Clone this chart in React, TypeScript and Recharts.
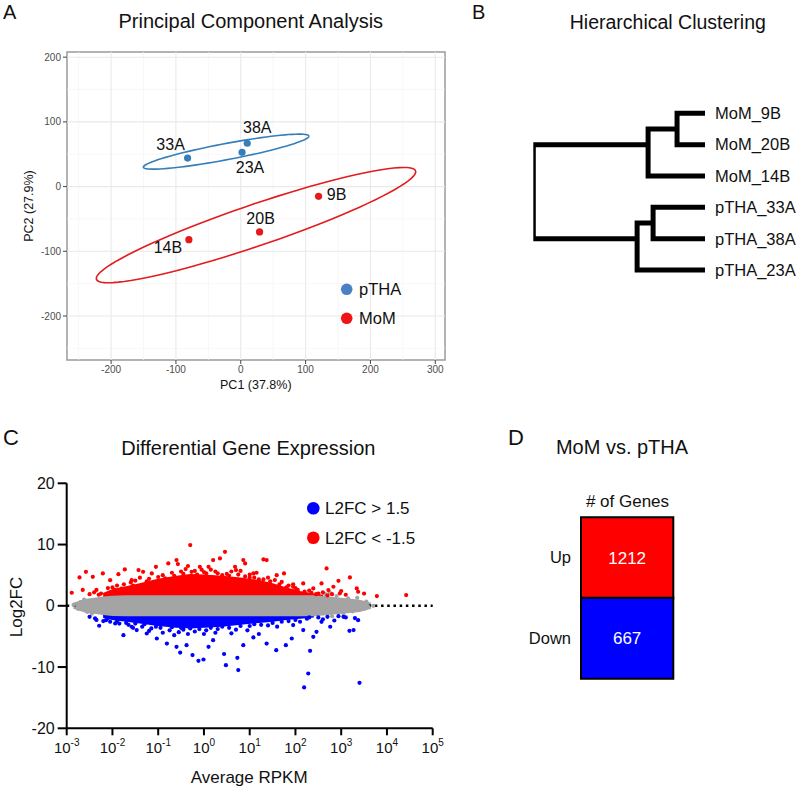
import React from 'react';
import {
  ScatterChart, Scatter, XAxis, YAxis, ReferenceLine, ReferenceArea,
  ComposedChart, Area, BarChart, Bar, Cell, LabelList, Legend,
} from 'recharts';

const FONT = 'Arial, "Liberation Sans", Helvetica, sans-serif';

// ---------------- Panel A: PCA ----------------
const pcaSamples = ['33A', '23A', '38A', '9B', '20B', '14B'];
const pcaGroups = ['pTHA', 'pTHA', 'pTHA', 'MoM', 'MoM', 'MoM'];
const pc1Values = [-82, 2, 10, 120, 29, -80];
const pc2Values = [44, 53, 67, -15, -70, -82];
const pcaGroupNames = ['pTHA', 'MoM'];
const pcaXTicks = [-200, -100, 0, 100, 200, 300];
const pcaYTicks = [-200, -100, 0, 100, 200];
const pcaXMinor = [-250, -150, -50, 50, 150, 250];
const pcaYMinor = [-250, -150, -50, 50, 150];
// confidence ellipses: centre, semi-axes, tilt (deg)
const pthaEllipse = { cx: -22.5, cy: 54, a: 130, b: 12.5, tilt: 10.7 };
const momEllipse = { cx: 23.5, cy: -59.5, a: 260, b: 32, tilt: 18.8 };

// ---------------- Panel B: dendrogram ----------------
const leafLabels = ['MoM_9B', 'MoM_20B', 'MoM_14B', 'pTHA_33A', 'pTHA_38A', 'pTHA_23A'];
// [childA height, childA row, childB height, childB row, merge height]
const merges = [
  [0, 0, 0, 1, 28],
  [28, 0.5, 0, 2, 57],
  [0, 3, 0, 4, 52],
  [52, 3.5, 0, 5, 68],
  [57, 1, 68, 4, 172],
];

// ---------------- Panel C: MA plot ----------------
const rpkmLogTicks = [-3, -2, -1, 0, 1, 2, 3, 4, 5];
const l2fcTicks = [-20, -10, 0, 10, 20];
const L2FC_CUT = 1.5;
const bandLogRpkm = [-2.85, -2.6, -2.2, -2.0, -1.7, -1.4, -1.0, -0.6, -0.3, 0.0, 0.4, 0.8, 1.2, 1.5, 1.8, 2.1, 2.4, 2.6, 3.0, 3.4, 3.65];
const grayBandLow = [-0.3, -0.9, -1.3, -1.45, -1.5, -1.5, -1.5, -1.5, -1.5, -1.5, -1.5, -1.5, -1.5, -1.5, -1.5, -1.5, -1.5, -1.4, -1.1, -0.8, -0.3];
const grayBandHigh = [0.3, 0.9, 1.3, 1.45, 1.5, 1.5, 1.5, 1.5, 1.5, 1.5, 1.5, 1.5, 1.5, 1.5, 1.5, 1.5, 1.5, 1.4, 1.1, 0.8, 0.3];
const upBandHigh = [null, null, 1.9, 2.5, 3.0, 3.5, 4.2, 4.7, 5.0, 4.9, 4.7, 4.4, 4.0, 3.5, 2.8, 2.2, 1.8, 1.6, null, null, null];
const downBandLow = [null, null, -1.8, -2.1, -2.4, -2.7, -3.1, -3.4, -3.5, -3.4, -3.2, -2.9, -2.6, -2.4, -2.1, -1.9, -1.7, null, null, null, null];
const upGenes = [
  [-2.89, 2.13], [-2.72, 4.63], [-2.58, 5.55], [-2.43, 4.73], [-2.21, 5.28], [-2.05, 4.19], [-1.87, 5.17], [-1.73, 5.94],
  [-1.58, 4.19], [-1.43, 5.83], [-1.33, 5.55], [-1.14, 5.28], [-1.05, 6.37], [-0.78, 6.92], [-0.6, 7.46], [-0.57, 6.81],
  [-0.3, 9.91], [-0.27, 5.55], [-0.09, 6.37], [0.1, 6.37], [0.2, 7.46], [0.35, 7.73], [0.46, 8.82], [0.68, 6.37],
  [0.7, 5.83], [0.86, 7.46], [0.9, 6.92], [1.08, 5.28], [1.3, 7.57], [1.37, 7.46], [1.59, 5.0], [1.75, 5.28],
  [1.95, 3.11], [2.17, 3.65], [2.39, 2.84], [2.57, 3.65], [2.68, 6.1], [2.72, 2.56], [2.83, 3.11], [2.94, 4.08],
  [2.97, 2.02], [3.19, 4.63], [3.34, 2.84], [3.37, 2.29], [3.78, 1.58], [4.42, 1.75],
  [-2.65, 2.6], [-2.5, 1.9], [-2.4, 2.2], [-2.35, 2.6], [-2.3, 1.8], [-2.25, 2.0], [-2.1, 2.9], [-1.9, 3.3],
  [-1.8, 2.8], [-1.6, 3.8], [-1.5, 4.1], [-1.2, 4.4], [-1.1, 3.9], [-0.9, 5.0], [-0.7, 5.4], [-0.5, 5.6],
  [-0.4, 6.0], [-0.2, 5.7], [0.0, 5.5], [0.15, 5.9], [0.3, 5.3], [0.5, 5.2], [0.6, 5.6], [0.9, 4.8],
  [1.0, 5.1], [1.1, 4.6], [1.3, 4.3], [1.45, 4.0], [1.65, 3.5], [1.85, 3.3], [2.0, 2.9], [2.2, 2.3],
  [2.35, 2.1], [2.5, 2.0], [2.7, 1.7],
  [-2.0, 3.0], [-1.95, 2.6], [-1.75, 3.5], [-1.55, 3.3], [-1.4, 4.6], [-1.25, 4.0], [-1.0, 4.7], [-0.85, 4.5],
  [-0.65, 4.9], [-0.45, 5.2], [-0.35, 6.5], [-0.15, 5.1], [-0.05, 5.9], [0.05, 5.3], [0.25, 5.6], [0.4, 5.0],
  [0.55, 4.9], [0.75, 5.1], [0.8, 5.7], [1.0, 4.6], [1.15, 5.4], [1.2, 4.3], [1.4, 4.6], [1.55, 4.2],
  [1.7, 3.9], [1.8, 3.0], [1.95, 3.5], [2.05, 2.6], [2.3, 2.5], [2.45, 1.9], [2.6, 2.2], [2.8, 1.9],
  [3.0, 2.4], [3.1, 1.8], [3.5, 2.0],
];
const downGenes = [
  [-2.38, -2.06], [-2.29, -3.26], [-2.14, -2.34], [-1.94, -2.88], [-1.76, -4.79], [-1.58, -3.42], [-1.47, -3.97], [-1.25, -4.52],
  [-1.03, -5.34], [-0.81, -6.16], [-0.6, -6.7], [-0.52, -7.63], [-0.38, -6.43], [-0.25, -8.05], [-0.12, -8.98], [-0.01, -8.77],
  [0.1, -6.7], [0.2, -5.61], [0.44, -7.87], [0.48, -9.69], [0.73, -8.49], [0.75, -10.5], [0.86, -6.43], [1.08, -5.17],
  [1.37, -6.16], [1.58, -7.24], [1.79, -6.43], [1.92, -5.34], [1.95, -3.15], [2.17, -3.97], [2.28, -11.05], [2.32, -7.35],
  [2.19, -13.33], [2.39, -5.07], [2.46, -4.25], [2.57, -2.61], [2.76, -3.42], [2.94, -1.69], [3.05, -1.8], [3.18, -4.08],
  [3.27, -3.97], [3.37, -2.34], [3.4, -12.57],
  [-2.5, -1.8], [-2.35, -2.3], [-2.2, -2.5], [-2.05, -2.6], [-1.85, -2.9], [-1.65, -3.1], [-1.5, -2.9], [-1.35, -3.4],
  [-1.15, -3.7], [-0.95, -3.6], [-0.75, -4.0], [-0.55, -4.3], [-0.45, -3.9], [-0.2, -4.2], [0.05, -4.0], [0.3, -3.8],
  [0.55, -3.6], [0.7, -3.9], [1.0, -3.3], [1.25, -3.1], [1.5, -2.8], [1.7, -2.6], [2.0, -2.3], [2.25, -2.1],
  [2.5, -1.9], [2.7, -1.8],
  [-2.1, -2.0], [-1.9, -2.5], [-1.7, -2.8], [-1.55, -3.6], [-1.3, -3.0], [-1.2, -4.1], [-1.05, -3.4], [-0.9, -4.4],
  [-0.7, -3.5], [-0.65, -4.8], [-0.5, -3.6], [-0.35, -4.6], [-0.3, -3.7], [-0.1, -3.8], [0.0, -4.6], [0.15, -3.6],
  [0.25, -4.4], [0.4, -3.4], [0.6, -4.5], [0.8, -3.3], [0.95, -4.0], [1.1, -3.0], [1.2, -4.6], [1.4, -3.2],
  [1.6, -3.4], [1.85, -2.5], [2.1, -2.6], [2.3, -1.9], [2.6, -2.2], [2.85, -2.4], [3.1, -1.9], [3.3, -2.0],
];
const unchangedFringe = [
  [-2.85, 0.15], [-2.75, -0.5], [-2.7, 0.6], [-2.62, 1.0], [-2.55, -1.0], [-2.45, -1.3], [2.65, 1.9], [2.75, 2.2],
  [2.8, -1.7], [2.9, 1.6], [3.05, -1.35], [3.15, 1.2], [3.25, -0.9], [3.35, 1.3], [3.5, -0.5], [3.55, 0.7],
  [3.6, -0.2], [3.7, 0.0],
];
const maLegendLabels = ['L2FC > 1.5', 'L2FC < -1.5'];

// ---------------- Panel D: gene counts ----------------
const degDirections = ['Up', 'Down'];
const degCounts = [1212, 667];

// ---------------- styles ----------------
const groupColor: Record<string, string> = { pTHA: '#377EB8', MoM: '#E41A1C' };
const legendDotColor: Record<string, string> = { pTHA: '#4a80c4', MoM: '#f01414' };
const pcaLabelOffset: Record<string, [number, number]> = {
  '33A': [-17, -14], '23A': [8, 15], '38A': [10, -16], '9B': [18, -2], '20B': [1, -14], '14B': [-21, 8],
};
const UP_COLOR = '#ff0000';
const DOWN_COLOR = '#0000ff';
const GRAY = '#a4a4a4';
const degColors = [UP_COLOR, DOWN_COLOR];

function ellipsePoints(e: { cx: number; cy: number; a: number; b: number; tilt: number }) {
  const phi = (e.tilt * Math.PI) / 180;
  const pts: { x: number; y: number }[] = [];
  for (let k = 0; k <= 90; k++) {
    const t = (k / 90) * 2 * Math.PI;
    const u = e.a * Math.cos(t);
    const v = e.b * Math.sin(t);
    pts.push({ x: e.cx + u * Math.cos(phi) - v * Math.sin(phi), y: e.cy + u * Math.sin(phi) + v * Math.cos(phi) });
  }
  return pts;
}

const noShape = () => <g />;

const makePcaShape = (color: string) => (p: any) => {
  const name = p.payload.name;
  const [dx, dy] = pcaLabelOffset[name] || [0, 0];
  return (
    <g>
      <circle cx={p.cx} cy={p.cy} r={3.6} fill={color} />
      <text x={p.cx + dx} y={p.cy + dy + 5.7} textAnchor="middle" fontSize={16} fontFamily={FONT} fill="#111">
        {name}
      </text>
    </g>
  );
};

const dot = (color: string, r: number) => (p: any) => <circle cx={p.cx} cy={p.cy} r={r} fill={color} />;

function PcaPanel() {
  const pts = pcaSamples.map((s, i) => ({ x: pc1Values[i], y: pc2Values[i], name: s, group: pcaGroups[i] }));
  const gridTick = { fontSize: 10, fill: '#4d4d4d', fontFamily: FONT };
  return (
    <ScatterChart width={460} height={400} margin={{ top: 52, right: 15, bottom: 0, left: 0 }}>
      <XAxis type="number" dataKey="x" domain={[-268, 315]} allowDataOverflow ticks={pcaXTicks} interval={0}
        height={40} axisLine={false} tickSize={4} tickMargin={2} tickLine={{ stroke: '#444' }} tick={gridTick} />
      <YAxis type="number" dataKey="y" domain={[-268, 208]} allowDataOverflow ticks={pcaYTicks} interval={0}
        width={67} axisLine={false} tickSize={4} tickMargin={2} tickLine={{ stroke: '#444' }} tick={gridTick} />
      {pcaXMinor.map((v) => <ReferenceLine key={'xm' + v} x={v} stroke="#f3f3f3" strokeWidth={0.7} />)}
      {pcaYMinor.map((v) => <ReferenceLine key={'ym' + v} y={v} stroke="#f3f3f3" strokeWidth={0.7} />)}
      {pcaXTicks.map((v) => <ReferenceLine key={'xM' + v} x={v} stroke="#e9e9e9" strokeWidth={1.1} />)}
      {pcaYTicks.map((v) => <ReferenceLine key={'yM' + v} y={v} stroke="#e9e9e9" strokeWidth={1.1} />)}
      <ReferenceArea x1={-268} x2={315} y1={-268} y2={208} fill="none" fillOpacity={0} stroke="#9a9a9a" strokeWidth={1.5} />
      <Scatter name="pTHA-ellipse" data={ellipsePoints(pthaEllipse)} line={{ stroke: groupColor.pTHA, strokeWidth: 1.6 }}
        shape={noShape} legendType="none" isAnimationActive={false} />
      <Scatter name="MoM-ellipse" data={ellipsePoints(momEllipse)} line={{ stroke: groupColor.MoM, strokeWidth: 1.6 }}
        shape={noShape} legendType="none" isAnimationActive={false} />
      {pcaGroupNames.map((g) => (
        <Scatter key={g} name={g} data={pts.filter((p) => p.group === g)} fill={groupColor[g]}
          shape={makePcaShape(groupColor[g])} isAnimationActive={false} />
      ))}
      <Legend layout="vertical" align="center" verticalAlign="middle"
        wrapperStyle={{ position: 'absolute', left: 335, top: 275, bottom: 'auto', width: 100, height: 60 }}
        content={() => (
          <svg width={100} height={60}>
            {pcaGroupNames.map((g, i) => (
              <g key={g}>
                <circle cx={11.7} cy={14.3 + i * 29} r={5.8} fill={legendDotColor[g]} />
                <text x={24} y={14.3 + i * 29 + 6} fontSize={16.5} fontFamily={FONT} fill="#111">{g}</text>
              </g>
            ))}
          </svg>
        )} />
    </ScatterChart>
  );
}

function DendroPanel() {
  const links = merges.map(([ha, ra, hb, rb, h]) => [
    { x: ha, y: ra }, { x: h, y: ra }, { x: h, y: rb }, { x: hb, y: rb },
  ]);
  return (
    <ScatterChart width={320} height={300} margin={{ top: 113.3, right: 0, bottom: 30, left: 53.3 }}>
      <XAxis type="number" dataKey="x" domain={[0, 172]} reversed hide allowDataOverflow />
      <YAxis type="number" dataKey="y" domain={[0, 5]} reversed orientation="right" ticks={[0, 1, 2, 3, 4, 5]}
        interval={0} width={95} axisLine={false} tickLine={false} tickSize={6} tickMargin={4}
        tickFormatter={(v: number) => leafLabels[v]}
        tick={{ fontSize: 16.5, fill: '#111', fontFamily: FONT, textAnchor: 'start' }} />
      {links.map((pts, i) => (
        <Scatter key={i} data={pts} line={{ stroke: '#000', strokeWidth: 5, strokeLinejoin: 'miter' }}
          shape={noShape} legendType="none" isAnimationActive={false} />
      ))}
    </ScatterChart>
  );
}

const PowerTick = (props: any) => {
  const { x, y, payload } = props;
  return (
    <text x={x} y={y + 16} textAnchor="middle" fontFamily={FONT} fill="#111">
      <tspan fontSize={15}>10</tspan>
      <tspan fontSize={10} dy={-7}>{String(payload.value)}</tspan>
    </text>
  );
};

function MaPanel() {
  const bandRows = bandLogRpkm.map((x, i) => ({
    x,
    gray: [grayBandLow[i], grayBandHigh[i]],
    up: upBandHigh[i] == null ? null : [L2FC_CUT, upBandHigh[i]],
    down: downBandLow[i] == null ? null : [downBandLow[i], -L2FC_CUT],
  }));
  const toPts = (arr: number[][]) => arr.map(([x, y]) => ({ x, y }));
  const xFirst = bandLogRpkm[0];
  const xLast = bandLogRpkm[bandLogRpkm.length - 1];
  return (
    <ComposedChart width={460} height={390} data={bandRows} margin={{ top: 83.3, right: 27.3, bottom: 0, left: 0 }}>
      <XAxis type="number" dataKey="x" domain={[-3, 5]} allowDataOverflow ticks={rpkmLogTicks} interval={0} height={61.7}
        axisLine={{ stroke: '#000', strokeWidth: 2 }} tickLine={{ stroke: '#000', strokeWidth: 2 }} tickSize={7} tickMargin={2}
        tick={<PowerTick />} />
      <YAxis type="number" dataKey="y" domain={[-20, 20]} allowDataOverflow ticks={l2fcTicks} interval={0} width={66.7}
        axisLine={{ stroke: '#000', strokeWidth: 2 }} tickLine={{ stroke: '#000', strokeWidth: 2 }} tickSize={9} tickMargin={3}
        tick={{ fontSize: 16, fill: '#111', fontFamily: FONT }} />
      <ReferenceLine segment={[{ x: -3, y: 0 }, { x: xFirst + 0.1, y: 0 }]} stroke="#000" strokeWidth={2.6} strokeDasharray="2.5 3.7" />
      <ReferenceLine segment={[{ x: xLast - 0.05, y: 0 }, { x: 5, y: 0 }]} stroke="#000" strokeWidth={2.6} strokeDasharray="2.5 3.7" />
      <Area dataKey="up" type="linear" fill={UP_COLOR} fillOpacity={1} stroke={UP_COLOR} strokeWidth={2.5}
        dot={false} activeDot={false} legendType="none" isAnimationActive={false} />
      <Area dataKey="down" type="linear" fill={DOWN_COLOR} fillOpacity={1} stroke={DOWN_COLOR} strokeWidth={2.5}
        dot={false} activeDot={false} legendType="none" isAnimationActive={false} />
      <Area dataKey="gray" type="linear" fill={GRAY} fillOpacity={1} stroke={GRAY} strokeWidth={2.5}
        dot={false} activeDot={false} legendType="none" isAnimationActive={false} />
      <Scatter name="unchanged" data={toPts(unchangedFringe)} shape={dot(GRAY, 2.1)} legendType="none" isAnimationActive={false} />
      <Scatter name={maLegendLabels[1]} data={toPts(upGenes)} fill={UP_COLOR} shape={dot(UP_COLOR, 2.1)} isAnimationActive={false} />
      <Scatter name={maLegendLabels[0]} data={toPts(downGenes)} fill={DOWN_COLOR} shape={dot(DOWN_COLOR, 2.1)} isAnimationActive={false} />
      <Legend layout="vertical" align="center" verticalAlign="middle"
        wrapperStyle={{ position: 'absolute', left: 300, top: 95, bottom: 'auto', width: 140, height: 56 }}
        content={() => (
          <svg width={140} height={56}>
            {maLegendLabels.map((lab, i) => (
              <g key={lab}>
                <circle cx={13.3} cy={13.3 + i * 29.4} r={6.3} fill={i === 0 ? DOWN_COLOR : UP_COLOR} />
                <text x={25} y={13.3 + i * 29.4 + 6} fontSize={17} fontFamily={FONT} fill="#111">{lab}</text>
              </g>
            ))}
          </svg>
        )} />
    </ComposedChart>
  );
}

function CountPanel() {
  const rows = degDirections.map((d, i) => ({ dir: d, cell: 1, count: degCounts[i] }));
  return (
    <BarChart layout="vertical" width={300} height={300} data={rows} barCategoryGap={0}
      margin={{ top: 97.3, right: 126.7, bottom: 41.7, left: 0 }}>
      <XAxis type="number" domain={[0, 1]} hide />
      <YAxis type="category" dataKey="dir" width={81} axisLine={false} tickLine={false} tickSize={0} tickMargin={10}
        tick={{ fontSize: 16.5, fill: '#111', fontFamily: FONT }} />
      <Bar dataKey="cell" stroke="#000" strokeWidth={2} isAnimationActive={false}>
        {rows.map((r, i) => <Cell key={r.dir} fill={degColors[i]} />)}
        <LabelList dataKey="count" position="center" fill="#fff" fontSize={17} fontFamily={FONT} />
      </Bar>
    </BarChart>
  );
}

export default function App() {
  const t = { fontFamily: FONT, fill: '#111' } as const;
  return (
    <div style={{ position: 'absolute', left: 0, top: 0, width: 800, height: 790, background: '#fff', fontFamily: FONT }}>
      <div style={{ position: 'absolute', left: 0, top: 0 }}><PcaPanel /></div>
      <div style={{ position: 'absolute', left: 480, top: 0 }}><DendroPanel /></div>
      <div style={{ position: 'absolute', left: 0, top: 400 }}><MaPanel /></div>
      <div style={{ position: 'absolute', left: 500, top: 420 }}><CountPanel /></div>
      <svg width={800} height={790} style={{ position: 'absolute', left: 0, top: 0, pointerEvents: 'none' }}>
        <text x={3} y={18.5} fontSize={20} {...t}>A</text>
        <text x={250.8} y={27.5} fontSize={20} textAnchor="middle" {...t}>Principal Component Analysis</text>
        <text x={255.8} y={388.5} fontSize={12.5} textAnchor="middle" {...t}>PC1 (37.8%)</text>
        <text x={33} y={206} fontSize={12.5} textAnchor="middle" transform="rotate(-90 33 206)" {...t}>PC2 (27.9%)</text>
        <text x={472} y={18.5} fontSize={20} {...t}>B</text>
        <text x={667.8} y={29} fontSize={19.5} textAnchor="middle" {...t}>Hierarchical Clustering</text>
        <text x={3} y={445} fontSize={22} {...t}>C</text>
        <text x={248.3} y={455} fontSize={20} textAnchor="middle" {...t}>Differential Gene Expression</text>
        <text x={21.5} y={607} fontSize={17} textAnchor="middle" transform="rotate(-90 21.5 607)" {...t}>Log2FC</text>
        <text x={249.2} y={783.3} fontSize={17} textAnchor="middle" {...t}>Average RPKM</text>
        <text x={508} y={445} fontSize={22} {...t}>D</text>
        <text x={622} y={454.3} fontSize={20} textAnchor="middle" {...t}>MoM vs. pTHA</text>
        <text x={627.5} y={507.3} fontSize={17} textAnchor="middle" {...t}>{'# of Genes'}</text>
      </svg>
    </div>
  );
}
